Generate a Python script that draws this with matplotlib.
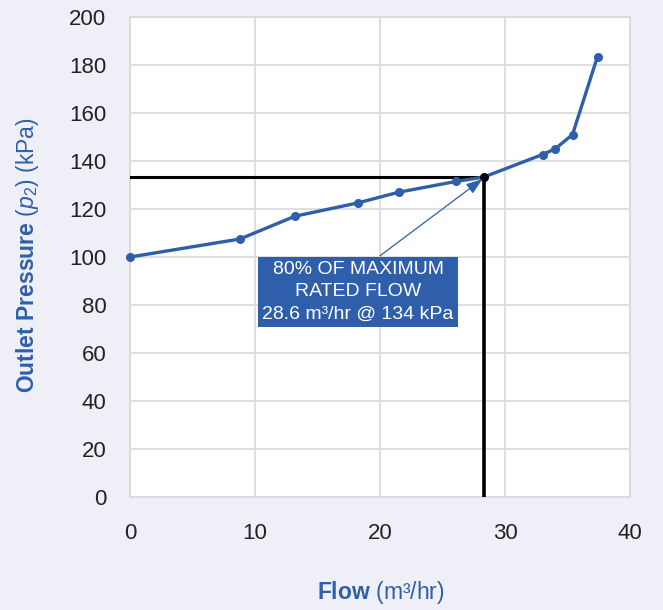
import numpy as np
import matplotlib.pyplot as plt

# curve data
flow = [0, 8.8, 13.2, 18.2, 21.5, 26.1, 28.3, 33.0, 34.0, 35.4, 37.4]
pressure = [100, 107.5, 117, 122.5, 127, 131.5, 133.3, 142.7, 145, 151, 183.5]
marked = [0, 1, 2, 3, 4, 5, 7, 8, 9, 10]

# operating point (80% of maximum rated flow)
op_flow = 28.3
op_pressure = 133.3
op_text = "80% OF MAXIMUM\nRATED FLOW\n28.6 m\u00b3/hr @ 134 kPa"

x_ticks = [0, 10, 20, 30, 40]
y_ticks = [0, 20, 40, 60, 80, 100, 120, 140, 160, 180, 200]

blue = "#2F5FAA"
bg = "#EFEFF8"
grid = "#D9D9D9"

plt.rcParams['font.family'] = ['Liberation Sans', 'DejaVu Sans']
plt.rcParams['mathtext.fontset'] = 'custom'
plt.rcParams['mathtext.rm'] = 'Liberation Sans'
plt.rcParams['mathtext.it'] = 'Liberation Sans:italic'
plt.rcParams['mathtext.bf'] = 'Liberation Sans:bold'

fig = plt.figure(figsize=(6.63, 6.10), dpi=100)
fig.set_facecolor(bg)
ax = fig.add_axes([130/663, 113/610, 500/663, 480/610])
ax.set_facecolor("white")

ax.set_xlim(0, 40)
ax.set_ylim(0, 200)
ax.set_xticks(x_ticks)
ax.set_yticks(y_ticks)
ax.grid(True, color=grid, linewidth=1.2)
ax.set_axisbelow(True)
for s in ax.spines.values():
    s.set_color(grid)
    s.set_linewidth(1.2)
ax.tick_params(length=0, labelsize=16, colors="#222222")
ax.tick_params(axis='x', pad=19)
ax.tick_params(axis='y', pad=17)

# guide lines to operating point
ax.plot([0, op_flow], [op_pressure, op_pressure], color="black", lw=2.2, zorder=3)
ax.plot([op_flow, op_flow], [0, op_pressure], color="black", lw=2.6, zorder=3)

ax.plot(flow, pressure, color=blue, lw=2.4, marker="o", markersize=5.5,
        markevery=marked, zorder=4, clip_on=False)
ax.plot([op_flow], [op_pressure], "o", color="black", markersize=5.5, zorder=5)

ax.annotate("", xy=(op_flow - 0.1, op_pressure - 0.8), xytext=(20.0, 100.5),
            arrowprops=dict(arrowstyle="-|>,head_length=1.0,head_width=0.35",
                            color=blue, lw=0.9, shrinkA=0, shrinkB=0), zorder=5)
ax.text(18.25, 85.5, op_text, ha="center", va="center", color="white",
        fontsize=14, linespacing=1.4, zorder=6,
        bbox=dict(boxstyle="square,pad=0.22", facecolor=blue, edgecolor="none"))

fig.text(0.041, 0.582, r"$\mathbf{Outlet\ Pressure}$ ($\mathit{p}_2$) (kPa)",
         rotation=90, ha="center", va="center", color=blue, fontsize=16.5)

fig.text(0.575, 0.018, "$\\mathbf{Flow}$ (m\u00b3/hr)", ha="center",
         va="baseline", color=blue, fontsize=16.5)

fig.savefig("out.png", dpi=100, facecolor=bg)
